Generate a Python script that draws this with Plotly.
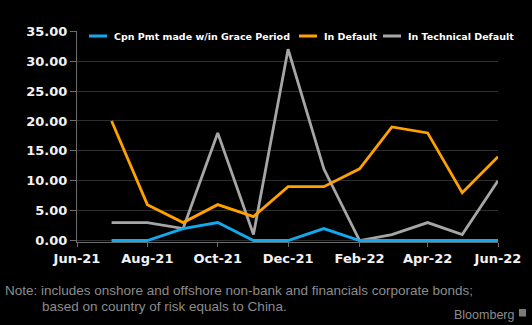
import plotly.graph_objects as go

# Monthly counts, Jul-2021 .. Jun-2022
months = ["2021-07-01", "2021-08-01", "2021-09-01", "2021-10-01", "2021-11-01", "2021-12-01",
          "2022-01-01", "2022-02-01", "2022-03-01", "2022-04-01", "2022-05-01", "2022-06-01"]
grace_period = [0, 0, 2, 3, 0, 0, 2, 0, 0, 0, 0, 0]
in_default = [20, 6, 3, 6, 4, 9, 9, 12, 19, 18, 8, 14]
technical_default = [3, 3, 2, 18, 1, 32, 12, 0, 1, 3, 1, 10]

series_names = ["Cpn Pmt made w/in Grace Period", "In Default", "In Technical Default"]
series_values = [grace_period, in_default, technical_default]
series_colors = ["#12A9EE", "#FFA200", "#A6A6A6"]

tick_dates = ["2021-06-01", "2021-08-01", "2021-10-01", "2021-12-01", "2022-02-01", "2022-04-01", "2022-06-01"]
tick_labels = ["Jun-21", "Aug-21", "Oct-21", "Dec-21", "Feb-22", "Apr-22", "Jun-22"]
y_ticks = [0, 5, 10, 15, 20, 25, 30, 35]

W, H = 532, 325
L, R, T, B = 77, 34, 31, 83
PW, PH = W - L - R, H - T - B


def px(x):
    return (x - L) / PW


def py(y):
    return (H - B - y) / PH


fig = go.Figure()
# Draw order: technical default at the back, grace period on top
for i in [2, 1, 0]:
    fig.add_trace(go.Scatter(
        x=months, y=series_values[i], name=series_names[i], mode="lines",
        line=dict(color=series_colors[i], width=2.8), showlegend=False,
    ))

axis_font = dict(family="DejaVu Sans", size=13, color="#F2F2F2", weight="bold")

fig.update_xaxes(
    type="date", range=["2021-06-01", "2022-06-01"],
    tickvals=tick_dates, ticktext=tick_labels, tickfont=axis_font,
    showgrid=False, showline=True, linecolor="#6B6B6B", linewidth=1,
    ticks="outside", ticklen=4, tickcolor="#6B6B6B", zeroline=False,
)
fig.update_yaxes(
    range=[-0.25, 35.05], tickvals=y_ticks,
    ticktext=[f"{v:.2f}" for v in y_ticks], tickfont=axis_font,
    showgrid=True, gridcolor="#2E2E2E", gridwidth=1,
    showline=True, linecolor="#6B6B6B", linewidth=1,
    ticks="outside", ticklen=6, tickcolor="#6B6B6B", zeroline=False,
)

# Legend row across the top of the plot
legend_x = [89, 299, 383]
shapes = []
annotations = []
for name, color, x0 in zip(series_names, series_colors, legend_x):
    shapes.append(dict(type="line", xref="paper", yref="paper",
                       x0=px(x0), x1=px(x0 + 18), y0=py(36), y1=py(36),
                       line=dict(color=color, width=3)))
    annotations.append(dict(text=name, xref="paper", yref="paper",
                            x=px(x0 + 23), y=py(36),
                            xanchor="left", yanchor="middle", showarrow=False,
                            font=dict(family="DejaVu Sans", size=9.5, color="#FFFFFF", weight="bold")))

note_font = dict(family="Liberation Sans", size=13.5, color="#8C8C8C")
annotations.append(dict(text="Note: includes onshore and offshore non-bank and financials corporate bonds;",
                        xref="paper", yref="paper", x=px(3), y=py(290),
                        xanchor="left", yanchor="middle", showarrow=False, font=note_font))
annotations.append(dict(text="based on country of risk equals to China.",
                        xref="paper", yref="paper", x=px(40), y=py(306.5),
                        xanchor="left", yanchor="middle", showarrow=False, font=note_font))
annotations.append(dict(text="Bloomberg",
                        xref="paper", yref="paper", x=px(516), y=py(315),
                        xanchor="right", yanchor="middle", showarrow=False,
                        font=dict(family="Liberation Sans", size=12.5, color="#8C8C8C")))
shapes.append(dict(type="rect", xref="paper", yref="paper",
                   x0=px(519), x1=px(526), y0=py(316.5), y1=py(309),
                   fillcolor="#7A7A7A", line=dict(width=0)))

fig.update_layout(
    width=W, height=H,
    margin=dict(l=L, r=R, t=T, b=B),
    paper_bgcolor="#000000", plot_bgcolor="#000000",
    shapes=shapes, annotations=annotations,
    showlegend=False,
)

fig.write_html("out.html")
